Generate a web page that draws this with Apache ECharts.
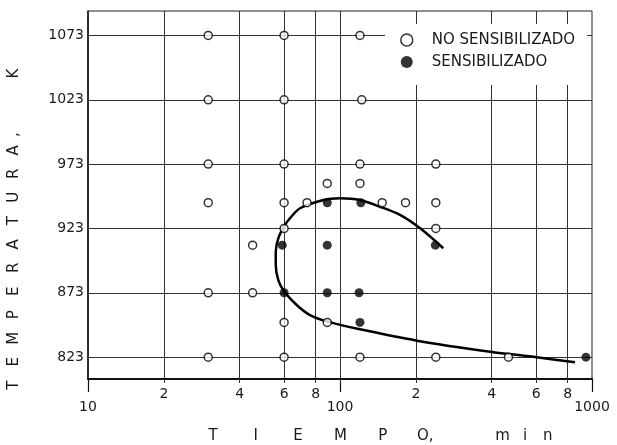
<!DOCTYPE html>
<html><head><meta charset="utf-8">
<script src="https://cdn.jsdelivr.net/npm/echarts@6/dist/echarts.min.js"></script>
<style>html,body{margin:0;padding:0;background:#fff}#c{width:617px;height:445px}</style>
</head><body><div id="c"></div>
<script>
// ---- data ----
const yTicks = [823, 873, 923, 973, 1023, 1073];
const xMinorTicks = [20, 40, 60, 80, 200, 400, 600, 800];
const xDecades = [10, 100, 1000];
const seriesNames = ['NO SENSIBILIZADO', 'SENSIBILIZADO'];
// [tiempo (min), temperatura (K)]
const noSensibilizado = [
  [30,1073],[60,1073],[120,1073],
  [30,1023],[60,1023],[122,1023],
  [30,973],[60,973],[120,973],[240,973],
  [89,958],[120,958],
  [30,943],[60,943],[74,943],[147,943],[182,943],[240,943],
  [60,923],[240,923],
  [45,910],
  [30,873],[45,873],
  [60,850],[89,850],
  [30,823],[60,823],[120,823],[240,823],[466,823]
];
const sensibilizado = [
  [89,943],[121,943],
  [59,910],[89,910],[239,910],
  [60,873],[89,873],[119,873],
  [120,850],
  [946,823]
];
// curva límite (trazada a mano en el original)
const curve = [
  [257,907.6],[208,923.1],[173,933.5],[144,939.9],[120,945.1],[100,946.4],[86,945.1],
  [69.4,938.7],[63.3,930.9],[59.9,924.4],[56.9,915.3],[55.6,904.9],[55.6,894.6],
  [56.9,882.9],[59.9,874.4],[67.3,863.5],[76,855.7],[88.6,850.8],[120,844.6],
  [202,835.8],[394,827.2],[603,822.9],[856,819.0]
];
const yTitle = ['T','E','M','P','E','R','A','T','U','R','A'];
const xTitle = ['T','I','E','M','P','O,'];
const xUnit = ['m','i','n'];

// ---- chart ----
const FONT = 'DejaVu Sans';
const INK = '#1a1a1a';
const chart = echarts.init(document.getElementById('c'), null, {renderer: 'canvas'});
const logMinor = xMinorTicks.map(v => Math.log10(v));
const yRich = yTitle.map(c => '{c|' + c + '}').join('') + '{m|,}{s| }{k|K}';
const xRich = xTitle.map(c => '{c|' + c + '}').join('') + '{s| }' + xUnit.map(c => '{u|' + c + '}').join('');

chart.setOption({
  animation: false,
  backgroundColor: '#fff',
  textStyle: {fontFamily: FONT},
  grid: {left: 88, top: 11, width: 504, height: 368, show: true, borderColor: '#222', borderWidth: 1, backgroundColor: 'transparent'},
  legend: {
    orient: 'vertical', left: 385, top: 24,
    padding: [8, 12, 15, 15], itemGap: 6,
    itemWidth: 40, itemHeight: 12,
    backgroundColor: '#fff',
    textStyle: {fontFamily: FONT, fontSize: 15, color: INK, lineHeight: 16},
    data: [
      {name: seriesNames[0], icon: 'circle', itemStyle: {color: '#fff', borderColor: '#000', borderWidth: 1.5}},
      {name: seriesNames[1], icon: 'circle', itemStyle: {color: '#000', borderWidth: 0}}
    ]
  },
  xAxis: [
    {
      type: 'log', logBase: 10, min: 10, max: 1000, position: 'bottom',
      axisLine: {show: true, onZero: false, lineStyle: {color: '#111', width: 2}},
      axisTick: {show: true, length: 13, lineStyle: {color: '#111', width: 1.2}},
      axisLabel: {margin: 21, fontSize: 14, color: INK, fontFamily: FONT, formatter: v => String(Math.round(v))},
      splitLine: {show: false}
    },
    {
      type: 'value', min: 1, max: 3, position: 'bottom',
      axisLine: {show: false, onZero: false},
      axisTick: {show: true, length: 4, customValues: logMinor.concat([2]), lineStyle: {color: '#333'}},
      axisLabel: {margin: 8, fontSize: 14, color: INK, fontFamily: FONT, customValues: logMinor,
        formatter: v => { const n = Math.round(Math.pow(10, v)); return String(n / Math.pow(10, Math.floor(Math.log10(n)))); }},
      splitLine: {show: true, lineStyle: {color: '#333', width: 1}}
    }
  ],
  yAxis: {
    type: 'value', min: 806, max: 1092,
    axisLine: {show: true, onZero: false, lineStyle: {color: '#111', width: 1.5}},
    axisTick: {show: false, customValues: yTicks},
    axisLabel: {margin: 4, fontSize: 14, color: INK, fontFamily: FONT, customValues: yTicks, formatter: v => String(v)},
    splitLine: {show: true, lineStyle: {color: '#333', width: 1}}
  },
  graphic: [
    {type: 'text', x: 14, y: 397, rotation: Math.PI / 2,
      style: {text: yRich, textAlign: 'left', textVerticalAlign: 'middle', fill: INK,
        font: '15px "DejaVu Sans"',
        rich: {c: {width: 23.5, align: 'center', fontSize: 15, fontFamily: FONT},
               m: {width: 8, align: 'left', fontSize: 15, fontFamily: FONT},
               s: {width: 51, fontSize: 15},
               k: {width: 12, align: 'center', fontSize: 15, fontFamily: FONT}}}},
    {type: 'text', x: 192, y: 436,
      style: {text: xRich, textAlign: 'left', textVerticalAlign: 'middle', fill: INK,
        font: '15px "DejaVu Sans"',
        rich: {c: {width: 42.4, align: 'center', fontSize: 15, fontFamily: FONT},
               s: {width: 45, fontSize: 15},
               u: {width: 22.5, align: 'center', fontSize: 15, fontFamily: FONT}}}}
  ],
  series: [
    {
      type: 'line', xAxisIndex: 0, data: curve, smooth: 0.3, symbol: 'none', z: 2,
      lineStyle: {color: '#000', width: 2.5}, silent: true
    },
    {
      name: seriesNames[0], type: 'scatter', xAxisIndex: 0, data: noSensibilizado, z: 5,
      symbol: 'circle', symbolSize: 8,
      itemStyle: {color: '#fff', borderColor: '#000', borderWidth: 1.5}
    },
    {
      name: seriesNames[1], type: 'scatter', xAxisIndex: 0, data: sensibilizado, z: 6,
      symbol: 'circle', symbolSize: 9,
      itemStyle: {color: '#000'}
    }
  ]
});
</script>
</body></html>
